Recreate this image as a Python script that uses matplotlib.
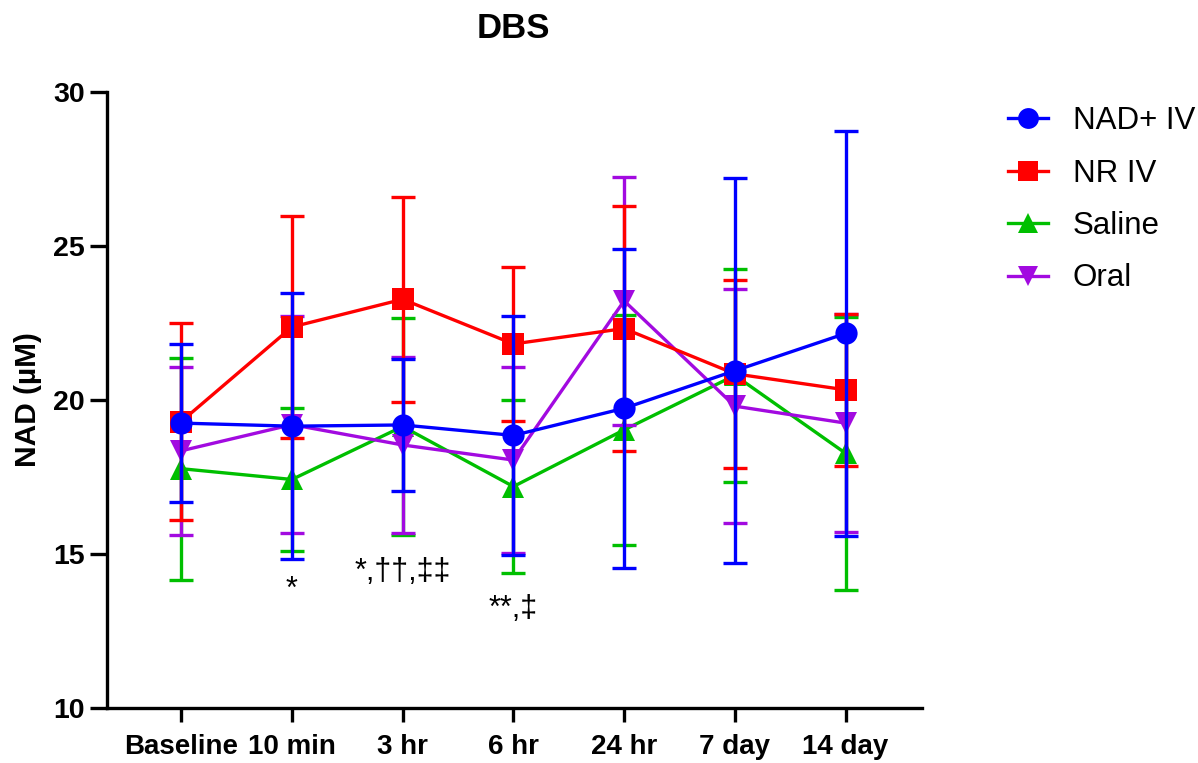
#DBS NAD time course: mean +/- SD for four groups

import numpy as np
import matplotlib
matplotlib.use("Agg")
import matplotlib.pyplot as plt
from matplotlib.lines import Line2D

plt.rcParams['font.family'] = ['Liberation Sans', 'DejaVu Sans']

'''---Data (read off the reference)---'''
timepoints = ["Baseline", "10 min", "3 hr", "6 hr", "24 hr", "7 day", "14 day"]

nad_iv_mean = [19.25, 19.15, 19.19, 18.85, 19.73, 20.95, 22.16]
nad_iv_sd = [2.57, 4.32, 2.14, 3.88, 5.18, 6.25, 6.58]

nr_iv_mean = [19.30, 22.37, 23.27, 21.82, 22.32, 20.85, 20.33]
nr_iv_sd = [3.20, 3.60, 3.33, 2.50, 3.98, 3.06, 2.47]

saline_mean = [17.77, 17.42, 19.14, 17.19, 19.03, 20.80, 18.27]
saline_sd = [3.60, 2.32, 3.52, 2.81, 3.73, 3.46, 4.44]

oral_mean = [18.35, 19.20, 18.54, 18.05, 23.22, 19.80, 19.25]
oral_sd = [2.72, 3.52, 2.86, 3.02, 4.03, 3.80, 3.55]

group_names = ["NAD+ IV", "NR IV", "Saline", "Oral"]

#significance marks under some timepoints
sig_labels = ["*", "*,\u2020\u2020,\u2021\u2021", "**,\u2021"]

#colours like the GraphPad defaults
blue = "#0000ff"
red = "#ff0000"
green = "#00bf00"
violet = "#a20ae0"

'''---Plot---'''
fig = plt.figure(figsize=(11.98, 7.63), dpi=100)
ax = fig.add_axes([107/1198, 1-708/763, (922-107)/1198, (708-92)/763])

x = np.arange(len(timepoints))

series = [
    (saline_mean, saline_sd, green, '^', 2),
    (oral_mean, oral_sd, violet, 'v', 3),
    (nr_iv_mean, nr_iv_sd, red, 's', 4),
    (nad_iv_mean, nad_iv_sd, blue, 'o', 5),
]

for m, s, c, mk, z in series:
    ax.errorbar(x, m, yerr=s, fmt='none', ecolor=c, elinewidth=2.4,
                capsize=8.3, capthick=2.4, zorder=z)
    ax.plot(x, m, color=c, lw=2.4, marker=mk, markersize=16,
            markeredgewidth=0, zorder=z+0.5)

handles = [
    Line2D([], [], color=blue, lw=2.4, marker='o', markersize=15, markeredgewidth=0),
    Line2D([], [], color=red, lw=2.4, marker='s', markersize=15, markeredgewidth=0),
    Line2D([], [], color=green, lw=2.4, marker='^', markersize=15, markeredgewidth=0),
    Line2D([], [], color=violet, lw=2.4, marker='v', markersize=15, markeredgewidth=0),
]
ax.legend(handles, group_names, loc='upper left', bbox_to_anchor=(1008/1198, 1-106/763),
          bbox_transform=fig.transFigure, frameon=False, fontsize=22.5,
          handlelength=1.28, handletextpad=0.8, labelspacing=0.72, borderaxespad=0,
          borderpad=0)

#significance text
ax.text(1, 13.85, sig_labels[0], ha='center', va='center', fontsize=22)
ax.text(2, 14.4, sig_labels[1], ha='center', va='center', fontsize=22)
ax.text(3, 13.2, sig_labels[2], ha='center', va='center', fontsize=22)

ax.set_xlim(-0.67, 6.69)
ax.set_ylim(10, 30)
ax.set_yticks([10, 15, 20, 25, 30])
ax.set_xticks(x)
ax.set_xticklabels(timepoints, fontsize=20, fontweight='bold')
for lab in ax.get_yticklabels():
    lab.set_fontsize(20.5)
    lab.set_fontweight('bold')

ax.spines['top'].set_visible(False)
ax.spines['right'].set_visible(False)
ax.spines['left'].set_linewidth(2.4)
ax.spines['bottom'].set_linewidth(2.4)
ax.tick_params(axis='y', length=12, width=2.4, pad=4)
ax.tick_params(axis='x', length=10, width=2.4, pad=9)

ax.set_ylabel("NAD (\u00b5M)", fontsize=21.5, fontweight='bold', labelpad=8)
fig.text(513/1198, 1-29/763, "DBS", ha='center', va='center', fontsize=25, fontweight='bold')

plt.savefig("out.png", dpi=100)
